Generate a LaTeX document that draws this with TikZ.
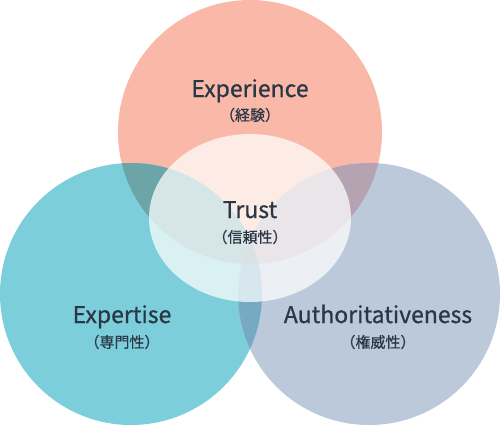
\documentclass[tikz,border=0pt]{standalone}
\usepackage{fontspec}
\setmainfont{Noto Sans CJK JP}
\newfontfamily\enfont{Noto Sans CJK JP}[FakeBold=0.8]
\newfontfamily\jpfont{Noto Sans CJK JP}[FakeBold=0.6]
\definecolor{topc}{RGB}{250,185,168}
\definecolor{leftc}{RGB}{125,206,219}
\definecolor{rightc}{RGB}{187,201,218}
\definecolor{tlc}{RGB}{108,165,168}
\definecolor{trc}{RGB}{182,163,177}
\definecolor{lrc}{RGB}{118,170,194}
\definecolor{triplec}{RGB}{128,150,165}
\definecolor{txt}{RGB}{42,55,70}
\tikzset{
  en/.style={text=txt, font=\enfont\fontsize{23}{26}\selectfont, inner sep=0pt, anchor=base},
  jp/.style={text=txt, font=\jpfont\fontsize{15}{17}\selectfont, inner sep=0pt},
}
\begin{document}
\begin{tikzpicture}[x=1pt,y=-1pt]
\useasboundingbox (0,0) rectangle (500,426);
\def\topcirc{(250,132) circle[radius=132]}
\def\leftcirc{(131,294) circle[radius=131]}
\def\rightcirc{(369,294) circle[radius=131]}
\fill[topc] \topcirc;
\fill[leftc] \leftcirc;
\fill[rightc] \rightcirc;
\begin{scope}
  \clip \topcirc; \fill[tlc] \leftcirc;
\end{scope}
\begin{scope}
  \clip \topcirc; \fill[trc] \rightcirc;
\end{scope}
\begin{scope}
  \clip \leftcirc; \fill[lrc] \rightcirc;
\end{scope}
\begin{scope}
  \clip \topcirc; \clip \leftcirc; \fill[triplec] \rightcirc;
\end{scope}
\fill[white, opacity=0.72] (250,218) ellipse[x radius=101, y radius=84];
\node[en] (exp) at (250,97) {Experience};
\node[jp] (expj) at (250,115) {（経験）};
\node[en] (tru) at (250,218) {Trust};
\node[jp] (truj) at (250,237) {（信頼性）};
\node[en] (ext) at (122,323) {Expertise};
\node[jp] (extj) at (122,342) {（専門性）};
\node[en] (aut) at (378,323) {Authoritativeness};
\node[jp] (autj) at (378,342) {（権威性）};
\end{tikzpicture}
\end{document}
